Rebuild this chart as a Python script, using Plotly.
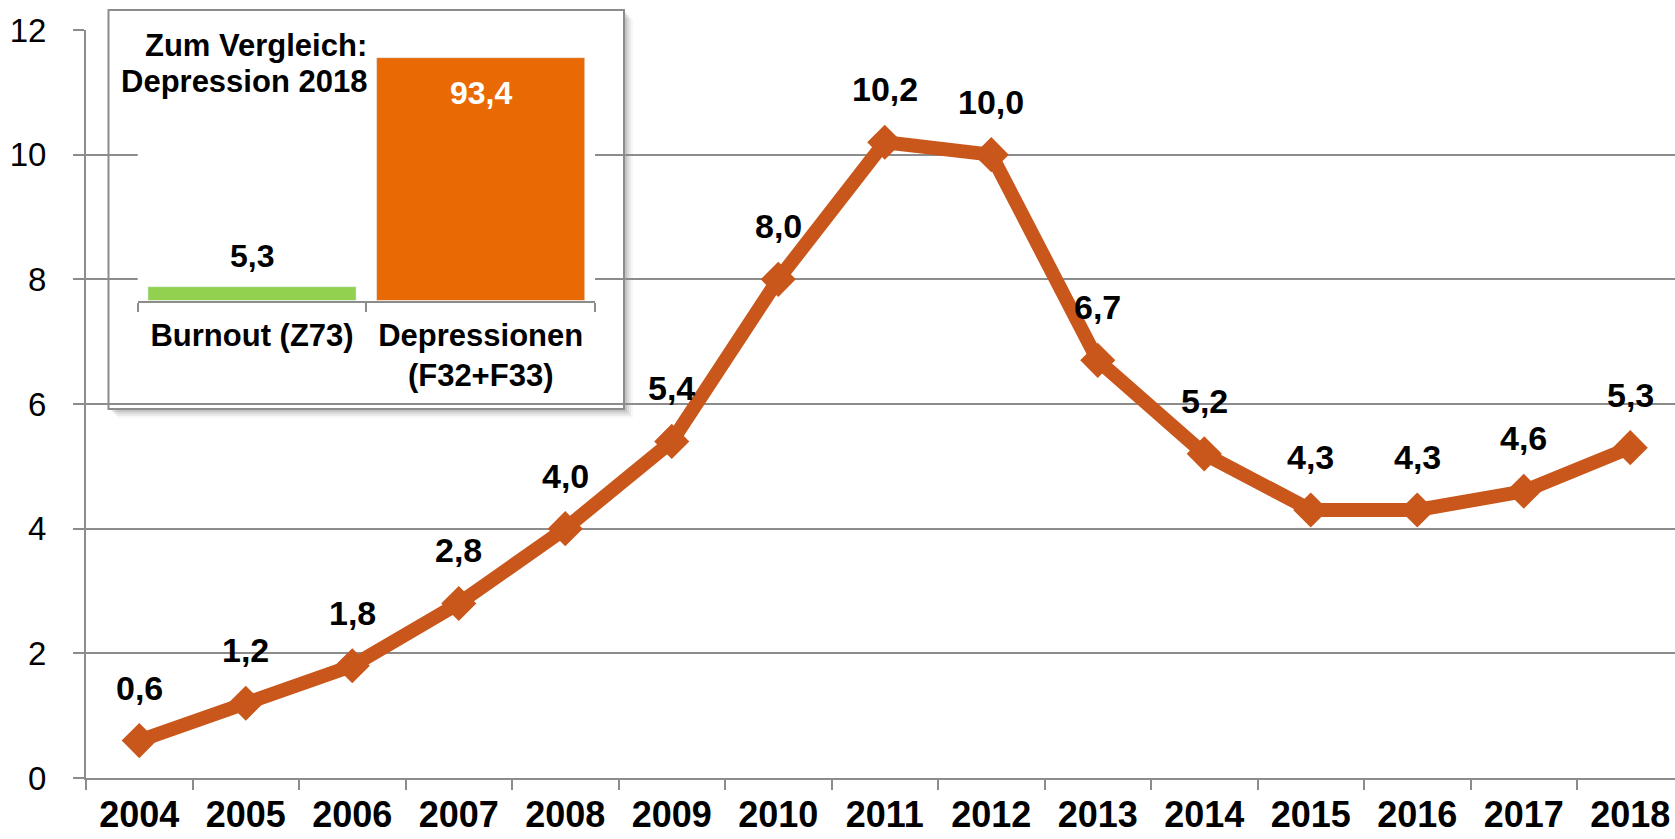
import plotly.graph_objects as go

# ---------------- data ----------------
years = [str(y) for y in range(2004, 2019)]
burnout_cases = [0.6, 1.2, 1.8, 2.8, 4.0, 5.4, 8.0, 10.2, 10.0, 6.7, 5.2, 4.3, 4.3, 4.6, 5.3]
y_tick_values = [0, 2, 4, 6, 8, 10, 12]

inset_categories = ["Burnout (Z73)", "Depressionen<br>(F32+F33)"]
inset_values = [5.3, 93.4]
inset_colors = ["#92D050", "#E96A05"]
inset_label_colors = ["black", "white"]
inset_title_lines = ["Zum Vergleich:", "Depression 2018"]


def de(v):
    return f"{v:.1f}".replace(".", ",")


# ---------------- geometry helpers ----------------
W, H = 1675, 839
L, R, T, B = 86, 0, 30, 61
PW, PH = W - L - R, H - T - B
BASE = H - B


def pxx(x):
    return (x - L) / PW


def pxy(y):
    return (BASE - y) / PH


LINE_COLOR = "#C9561A"
GRAY = "#8C8C8C"
FONT = "Liberation Sans, Arial, sans-serif"

fig = go.Figure()

fig.add_trace(go.Scatter(
    x=years, y=burnout_cases, mode="lines+markers",
    line=dict(color=LINE_COLOR, width=14),
    marker=dict(symbol="diamond", size=27, color=LINE_COLOR),
    cliponaxis=False, showlegend=False, hoverinfo="skip",
))

# inset bar chart
fig.add_trace(go.Bar(
    x=inset_categories, y=inset_values, marker_color=inset_colors,
    width=0.91, xaxis="x2", yaxis="y2", showlegend=False, hoverinfo="skip",
))

annotations = []
for i, v in enumerate(burnout_cases):
    annotations.append(dict(
        x=i, y=v, xref="x", yref="y", text=de(v), showarrow=False,
        yshift=53, font=dict(family=FONT, size=34, color="black", weight="bold"),
    ))

shifts = [31, -35]
for i, (v, col, s) in enumerate(zip(inset_values, inset_label_colors, shifts)):
    annotations.append(dict(
        x=i, y=v, xref="x2", yref="y2", text=de(v), showarrow=False,
        yshift=s, font=dict(family=FONT, size=32, color=col, weight="bold"),
    ))

for line, cy in zip(inset_title_lines, [46, 82]):
    annotations.append(dict(
        x=pxx(369), y=pxy(cy), xref="paper", yref="paper", text=line,
        showarrow=False, xanchor="right", yanchor="middle",
        font=dict(family=FONT, size=31, color="black", weight="bold"),
    ))

# inset frame (drawn in inset subplot so it hides the main gridlines)
x2_left, x2_right = 137.7, 595.0
y2_bottom, y2_top = 300.5, 40.5
dw, dh = x2_right - x2_left, y2_bottom - y2_top


def dx(px):
    return (px - x2_left) / dw


def dy(py):
    return (y2_bottom - py) / dh


box = (108.5, 10.0, 624.0, 409.0)
shapes = []
for off, a in [(9, 0.03), (7, 0.05), (5, 0.07), (3, 0.09)]:
    shapes.append(dict(
        type="rect", xref="x2 domain", yref="y2 domain", layer="below",
        x0=dx(box[0] + off), x1=dx(box[2] + off), y0=dy(box[3] + off), y1=dy(box[1] + off),
        fillcolor=f"rgba(0,0,0,{a})", line=dict(width=0),
    ))
shapes.append(dict(
    type="rect", xref="x2 domain", yref="y2 domain", layer="below",
    x0=dx(box[0]), x1=dx(box[2]), y0=dy(box[3]), y1=dy(box[1]),
    fillcolor="white", line=dict(color=GRAY, width=2),
))

fig.update_layout(
    width=W, height=H,
    margin=dict(l=L, r=R, t=T, b=B, autoexpand=False),
    paper_bgcolor="white", plot_bgcolor="white",
    font=dict(family=FONT, color="black"),
    xaxis=dict(
        type="category", range=[-0.5, (W - L) / 106.5 - 0.5],
        showgrid=False, zeroline=False,
        showline=True, linecolor=GRAY, linewidth=2,
        ticks="outside", ticklen=10, tickwidth=2, tickcolor=GRAY,
        tickson="boundaries", ticklabelstandoff=4,
        tickfont=dict(family=FONT, size=36, color="black", weight="bold"),
    ),
    yaxis=dict(
        range=[0, 12], tickvals=y_tick_values,
        showgrid=True, gridcolor=GRAY, gridwidth=2, zeroline=False,
        showline=True, linecolor=GRAY, linewidth=2,
        ticks="outside", ticklen=11, tickwidth=2, tickcolor=GRAY,
        ticklabelstandoff=20,
        tickfont=dict(family=FONT, size=33, color="black"),
    ),
    xaxis2=dict(
        type="category", domain=[pxx(x2_left), pxx(x2_right)], anchor="y2",
        showgrid=False, zeroline=False,
        showline=True, linecolor=GRAY, linewidth=2,
        ticks="outside", ticklen=9, tickwidth=2, tickcolor=GRAY,
        tickson="boundaries", ticklabelstandoff=6,
        tickfont=dict(family=FONT, size=31, color="black", weight="bold"),
    ),
    yaxis2=dict(
        domain=[pxy(y2_bottom), pxy(y2_top)], anchor="x2", range=[0, 100],
        visible=False,
    ),
    annotations=annotations,
    shapes=shapes,
)

fig.write_html(
    "out.html",
    config={"displayModeBar": False},
    post_script="document.body.style.margin='0';document.body.style.overflow='hidden';",
)
